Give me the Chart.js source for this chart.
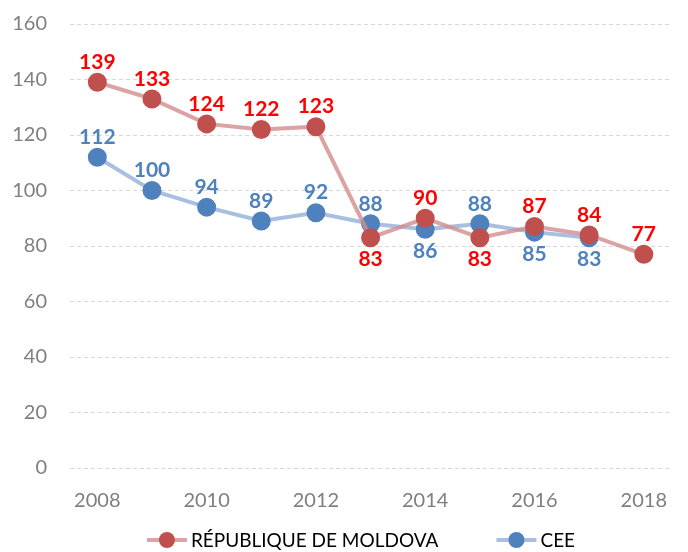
<!DOCTYPE html>
<html>
<head>
<meta charset="utf-8">
<script src="https://cdn.jsdelivr.net/npm/chart.js@4"></script>
<style>
  html, body { margin: 0; padding: 0; background: #fff; }
  #wrap { width: 688px; height: 552px; }
</style>
</head>
<body>
<div id="wrap"><canvas id="chart" width="688" height="552"></canvas></div>
<script>
// Chart data
const years = ["2008", "2009", "2010", "2011", "2012", "2013", "2014", "2015", "2016", "2017", "2018"];
const moldova = [139, 133, 124, 122, 123, 83, 90, 83, 87, 84, 77];
const cee = [112, 100, 94, 89, 92, 88, 86, 88, 85, 83, null];
const seriesNames = ["RÉPUBLIQUE DE MOLDOVA", "CEE"];

const FONT = "Lato, 'Open Sans', sans-serif";

// value labels above or below each point
const valueLabels = {
	id: "valueLabels",
	afterDatasetsDraw(chart) {
		const ctx = chart.ctx;
		const sets = chart.data.datasets;
		ctx.save();
		ctx.font = "bold 21px " + FONT;
		ctx.textAlign = "center";
		ctx.textBaseline = "middle";
		sets.forEach(function (ds, i) {
			const other = sets[1 - i].data;
			const meta = chart.getDatasetMeta(i);
			ds.data.forEach(function (v, j) {
				if (v == null) return;
				const pt = meta.data[j];
				const o = other[j];
				// put label below when the other series sits just above
				const below = o != null && o > v && o - v < 10;
				ctx.fillStyle = ds.labelColor;
				ctx.fillText(String(v), pt.x, below ? pt.y + 22 : pt.y - 20);
			});
		});
		ctx.restore();
	},
};

// legend like the excel one: short line with a dot, then the name
const lineLegend = {
	id: "lineLegend",
	afterDraw(chart) {
		const ctx = chart.ctx;
		const sets = chart.data.datasets;
		const y = 540;
		ctx.save();
		ctx.font = "19px " + FONT;
		ctx.textBaseline = "middle";
		ctx.textAlign = "left";
		const iconW = 40, gap = 4, between = 58;
		let total = 0;
		sets.forEach(function (ds, i) {
			total += iconW + gap + ctx.measureText(ds.label).width;
			if (i < sets.length - 1) total += between;
		});
		let x = 361 - total / 2;
		sets.forEach(function (ds) {
			ctx.strokeStyle = ds.borderColor;
			ctx.lineWidth = 4;
			ctx.beginPath();
			ctx.moveTo(x, y);
			ctx.lineTo(x + iconW, y);
			ctx.stroke();
			ctx.fillStyle = ds.pointBackgroundColor;
			ctx.beginPath();
			ctx.arc(x + iconW / 2, y, 8, 0, Math.PI * 2);
			ctx.fill();
			x += iconW + gap;
			ctx.fillStyle = "#000";
			ctx.fillText(ds.label, x, y + 1);
			x += ctx.measureText(ds.label).width + between;
		});
		ctx.restore();
	},
};

new Chart(document.getElementById("chart"), {
	type: "line",
	data: {
		labels: years,
		datasets: [
			{
				label: seriesNames[0],
				data: moldova,
				borderColor: "rgba(210, 140, 140, 0.8)",
				pointBackgroundColor: "#c0504d",
				pointBorderColor: "#c0504d",
				labelColor: "#ff0000",
				borderWidth: 4,
				pointRadius: 7.5,
				tension: 0,
			},
			{
				label: seriesNames[1],
				data: cee,
				borderColor: "rgba(140, 170, 215, 0.75)",
				pointBackgroundColor: "#4f81bd",
				pointBorderColor: "#4f81bd",
				labelColor: "#4f81bd",
				borderWidth: 4,
				pointRadius: 7.5,
				tension: 0,
			},
		],
	},
	options: {
		responsive: false,
		animation: false,
		layout: {
			autoPadding: false,
			padding: { top: 24, right: 0, left: 0, bottom: 0 },
		},
		plugins: {
			tooltip: { enabled: false },
			legend: { display: false },
		},
		scales: {
			x: {
				offset: true,
				grid: { display: false, drawTicks: false },
				border: { display: false },
				ticks: {
					color: "#7f7f7f",
					font: { family: FONT, size: 20 },
					padding: 21,
					autoSkip: false,
					maxRotation: 0,
					callback: function (val, idx) {
						return idx % 2 === 0 ? years[idx] : "";
					},
				},
				afterFit: function (scale) {
					scale.height = 84;
					scale.paddingTop = 0;
				},
			},
			y: {
				min: 0,
				max: 160,
				grid: {
					color: "#d9d9d9",
					drawTicks: false,
				},
				border: { display: false, dash: [4, 3] },
				ticks: {
					stepSize: 20,
					color: "#7f7f7f",
					font: { family: FONT, size: 20, lineHeight: 0.5 },
					padding: 23,
				},
				afterFit: function (scale) {
					scale.width = 70;
					scale.paddingTop = 0;
					scale.paddingBottom = 0;
				},
			},
		},
	},
	plugins: [valueLabels, lineLegend],
});
</script>
</body>
</html>
